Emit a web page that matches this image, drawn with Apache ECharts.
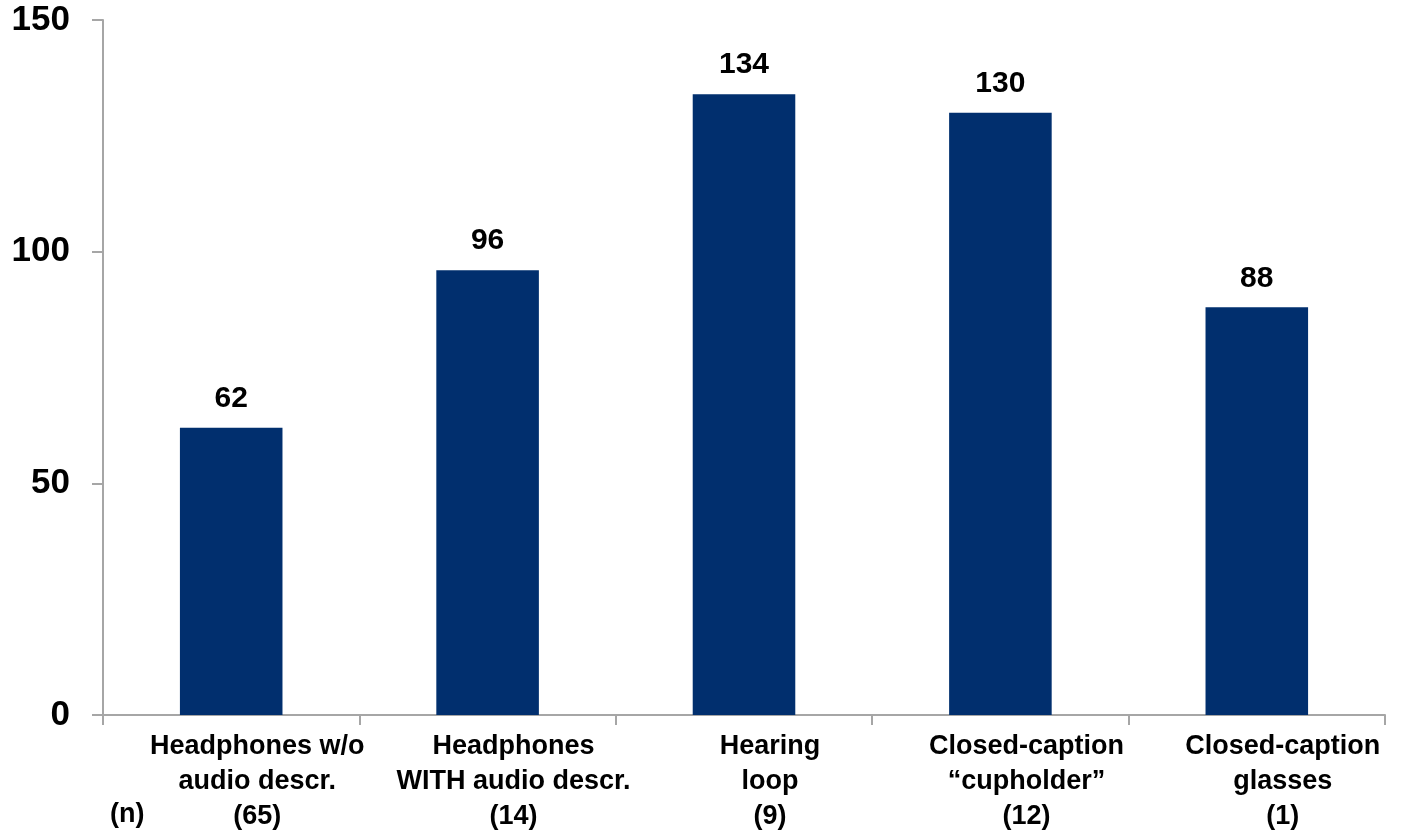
<!DOCTYPE html>
<html>
<head>
<meta charset="utf-8">
<script src="https://cdn.jsdelivr.net/npm/echarts@6/dist/echarts.min.js"></script>
<style>
  html, body { margin: 0; padding: 0; background: #ffffff; }
  #chart { width: 1404px; height: 830px; }
</style>
</head>
<body>
<div id="chart"></div>
<script>
// Device categories, each as its label lines; the last line is the sample size
const categories = [
  ['Headphones w/o', 'audio descr.', '(65)'],
  ['Headphones', 'WITH audio descr.', '(14)'],
  ['Hearing', 'loop', '(9)'],
  ['Closed-caption', '\u201ccupholder\u201d', '(12)'],
  ['Closed-caption', 'glasses', '(1)']
];
const values = [62, 96, 134, 130, 88];
const yTicks = { min: 0, max: 150, interval: 50 };
const sampleLabel = '(n)';

const FONT = '"Liberation Sans", Arial, sans-serif';
const AXIS_GREY = '#a6a6a6';
const BAR_BLUE = '#012f6e';

const chart = echarts.init(document.getElementById('chart'), null, { renderer: 'canvas' });

chart.setOption({
  animation: false,
  backgroundColor: '#ffffff',
  grid: { left: 103, right: 19, top: 20, bottom: 115, containLabel: false, outerBoundsMode: 'none' },
  xAxis: {
    type: 'category',
    data: categories.map(lines => lines.join('\n')),
    boundaryGap: true,
    axisLine: { show: true, lineStyle: { color: AXIS_GREY, width: 2 } },
    axisTick: { show: true, length: 10, alignWithLabel: false, lineStyle: { color: AXIS_GREY, width: 2 } },
    axisLabel: {
      interval: 0,
      margin: 14,
      color: '#000000',
      fontFamily: FONT,
      fontWeight: 'bold',
      fontSize: 27,
      lineHeight: 35,
      padding: [0, 0, 0, 52]
    },
    splitLine: { show: false }
  },
  yAxis: {
    type: 'value',
    min: yTicks.min,
    max: yTicks.max,
    interval: yTicks.interval,
    axisLine: { show: true, lineStyle: { color: AXIS_GREY, width: 2 } },
    axisTick: { show: true, inside: false, length: 11, lineStyle: { color: AXIS_GREY, width: 2 } },
    axisLabel: {
      margin: 33,
      color: '#000000',
      fontFamily: FONT,
      fontWeight: 'bold',
      fontSize: 35
    },
    splitLine: { show: false }
  },
  series: [{
    type: 'bar',
    data: values,
    barWidth: '40%',
    itemStyle: { color: BAR_BLUE },
    label: {
      show: true,
      position: 'top',
      distance: 14,
      color: '#000000',
      fontFamily: FONT,
      fontWeight: 'bold',
      fontSize: 30
    }
  }],
  graphic: [{
    type: 'text',
    left: 110,
    top: 801,
    style: {
      text: sampleLabel,
      fill: '#000000',
      font: 'bold 27px ' + FONT
    }
  }]
});
</script>
</body>
</html>
